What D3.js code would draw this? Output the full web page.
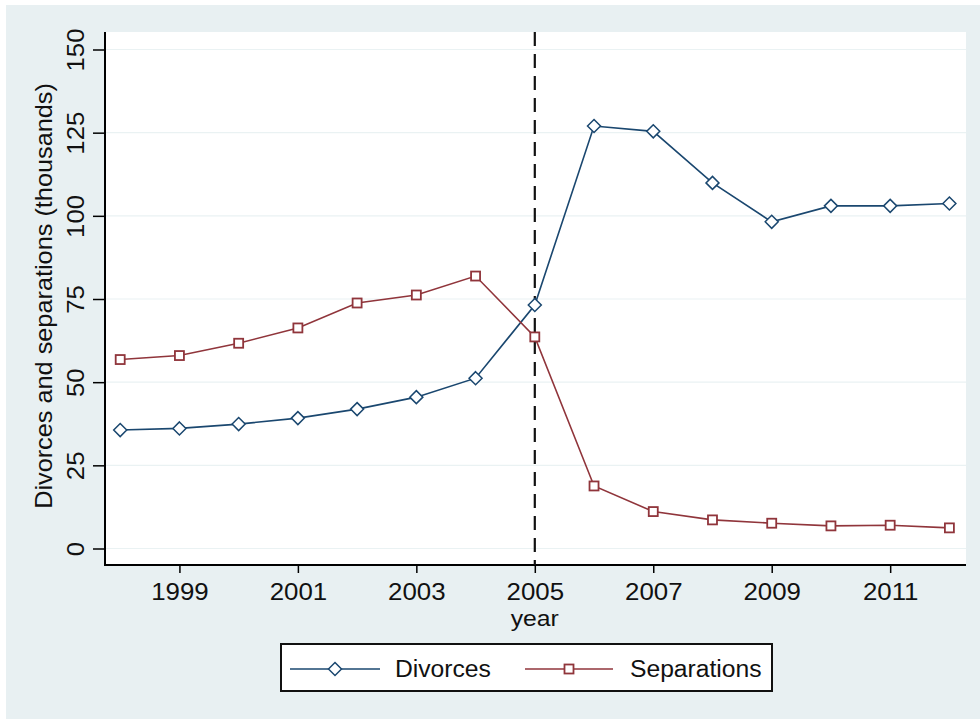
<!DOCTYPE html>
<html>
<head>
<meta charset="utf-8">
<script src="https://cdn.jsdelivr.net/npm/d3@7"></script>
<style>
  html, body { margin: 0; padding: 0; background: #ffffff; }
  svg { display: block; }
  text { font-family: "Liberation Sans", Arial, sans-serif; fill: #111; }
</style>
</head>
<body>
<svg id="chart" width="980" height="719"></svg>
<script>
const years = [1998, 1999, 2000, 2001, 2002, 2003, 2004, 2005, 2006, 2007, 2008, 2009, 2010, 2011, 2012];
const divorces = [35.6, 36.1, 37.4, 39.2, 41.9, 45.5, 51.2, 73.2, 127.0, 125.4, 109.9, 98.2, 103.0, 103.0, 103.7];
const separations = [56.8, 58.0, 61.7, 66.3, 73.8, 76.2, 81.9, 63.6, 18.8, 11.1, 8.6, 7.6, 6.8, 7.0, 6.2];
const xTicks = [1999, 2001, 2003, 2005, 2007, 2009, 2011];
const yTicks = [0, 25, 50, 75, 100, 125, 150];
const seriesNames = ["Divorces", "Separations"];
const seriesColors = ["#1a476f", "#90353b"];
const markerLine = 2005;

const svg = d3.select("#chart");
const W = 980, H = 719;
const bg = "#e8f0f2";
const FS = 23.5, SX = 1.1;

svg.append("rect").attr("x", 0).attr("y", 0).attr("width", W).attr("height", H).attr("fill", "#ffffff");
svg.append("rect").attr("x", 6).attr("y", 5).attr("width", W - 6).attr("height", H - 5).attr("fill", bg);

const plot = { left: 105, right: 966, top: 32, bottom: 565 };
svg.append("rect").attr("x", plot.left).attr("y", plot.top)
  .attr("width", plot.right - plot.left).attr("height", plot.bottom - plot.top).attr("fill", "#ffffff");

const x = d3.scaleLinear().domain([1998, 2012]).range([120.2, 949.4]);
const y = d3.scaleLinear().domain([0, 150]).range([548.5, 49.5]);

// gridlines
svg.append("g").selectAll("line").data(yTicks).join("line")
  .attr("x1", plot.left).attr("x2", plot.right)
  .attr("y1", d => y(d)).attr("y2", d => y(d))
  .attr("stroke", "#eaf2f3").attr("stroke-width", 1.2);

// y axis
const yAxis = d3.axisLeft(y).tickValues(yTicks).tickSize(12).tickPadding(10).tickFormat(d3.format("d"));
const gy = svg.append("g").attr("transform", `translate(${plot.left},0)`).call(yAxis);
gy.select(".domain").remove();
gy.append("line").attr("x1", 0).attr("x2", 0).attr("y1", plot.top).attr("y2", plot.bottom + 1)
  .attr("stroke", "#000").attr("stroke-width", 2);
gy.selectAll(".tick line").attr("stroke", "#000").attr("stroke-width", 1.5);
gy.selectAll(".tick text")
  .attr("font-size", FS).attr("fill", "#111")
  .attr("font-family", "'Liberation Sans', Arial, sans-serif")
  .attr("text-anchor", "middle")
  .attr("transform", `rotate(-90) scale(${SX},1)`)
  .attr("x", 0).attr("y", -29).attr("dy", "0.35em");

// x axis
const xAxis = d3.axisBottom(x).tickValues(xTicks).tickSize(8).tickPadding(10).tickFormat(d3.format("d"));
const gx = svg.append("g").attr("transform", `translate(0,${plot.bottom})`).call(xAxis);
gx.select(".domain").remove();
gx.append("line").attr("x1", plot.left - 1).attr("x2", plot.right).attr("y1", 0).attr("y2", 0)
  .attr("stroke", "#000").attr("stroke-width", 2);
gx.selectAll(".tick line").attr("stroke", "#000").attr("stroke-width", 1.5);
gx.selectAll(".tick text").attr("font-size", FS).attr("fill", "#111")
  .attr("font-family", "'Liberation Sans', Arial, sans-serif")
  .attr("transform", `scale(${SX},1)`);

// axis titles
svg.append("text").attr("transform", `translate(${x(2005)},626) scale(${SX},1)`).attr("text-anchor", "middle")
  .attr("font-size", 22.5).text("year");
svg.append("text").attr("transform", `translate(52,296) rotate(-90) scale(${SX},1)`).attr("text-anchor", "middle")
  .attr("font-size", 23).text("Divorces and separations (thousands)");

// dashed vertical line
svg.append("line").attr("x1", x(markerLine)).attr("x2", x(markerLine))
  .attr("y1", plot.top).attr("y2", plot.bottom)
  .attr("stroke", "#111").attr("stroke-width", 2.2).attr("stroke-dasharray", "14,8");

// series
const line = d3.line().x((d, i) => x(years[i])).y(d => y(d));
const seriesData = [divorces, separations];

function drawMarker(g, type, cx, cy, color) {
  if (type === 0) {
    const r = 6.5;
    g.append("path").attr("d", `M${cx},${cy - r}L${cx + r},${cy}L${cx},${cy + r}L${cx - r},${cy}Z`)
      .attr("fill", "#fff").attr("stroke", color).attr("stroke-width", 1.5);
  } else {
    const s = 9;
    g.append("rect").attr("x", cx - s / 2).attr("y", cy - s / 2).attr("width", s).attr("height", s)
      .attr("fill", "#fff").attr("stroke", color).attr("stroke-width", 1.8);
  }
}

seriesData.forEach((vals, si) => {
  const g = svg.append("g");
  g.append("path").datum(vals).attr("d", line).attr("fill", "none")
    .attr("stroke", seriesColors[si]).attr("stroke-width", 1.6);
  vals.forEach((v, i) => drawMarker(g, si, x(years[i]), y(v), seriesColors[si]));
});

// legend
const lg = svg.append("g");
lg.append("rect").attr("x", 281).attr("y", 644).attr("width", 491).attr("height", 47)
  .attr("fill", "#fff").attr("stroke", "#111").attr("stroke-width", 2);
const legendItems = [
  { x1: 290, x2: 380, tx: 395 },
  { x1: 525, x2: 613, tx: 630 }
];
legendItems.forEach((it, si) => {
  const ly = 669;
  lg.append("line").attr("x1", it.x1).attr("x2", it.x2).attr("y1", ly).attr("y2", ly)
    .attr("stroke", seriesColors[si]).attr("stroke-width", 1.6);
  drawMarker(lg, si, (it.x1 + it.x2) / 2, ly, seriesColors[si]);
  lg.append("text").attr("transform", `translate(${it.tx},${ly}) scale(1.05,1)`).attr("dy", "0.36em")
    .attr("font-size", FS).text(seriesNames[si]);
});
</script>
</body>
</html>
